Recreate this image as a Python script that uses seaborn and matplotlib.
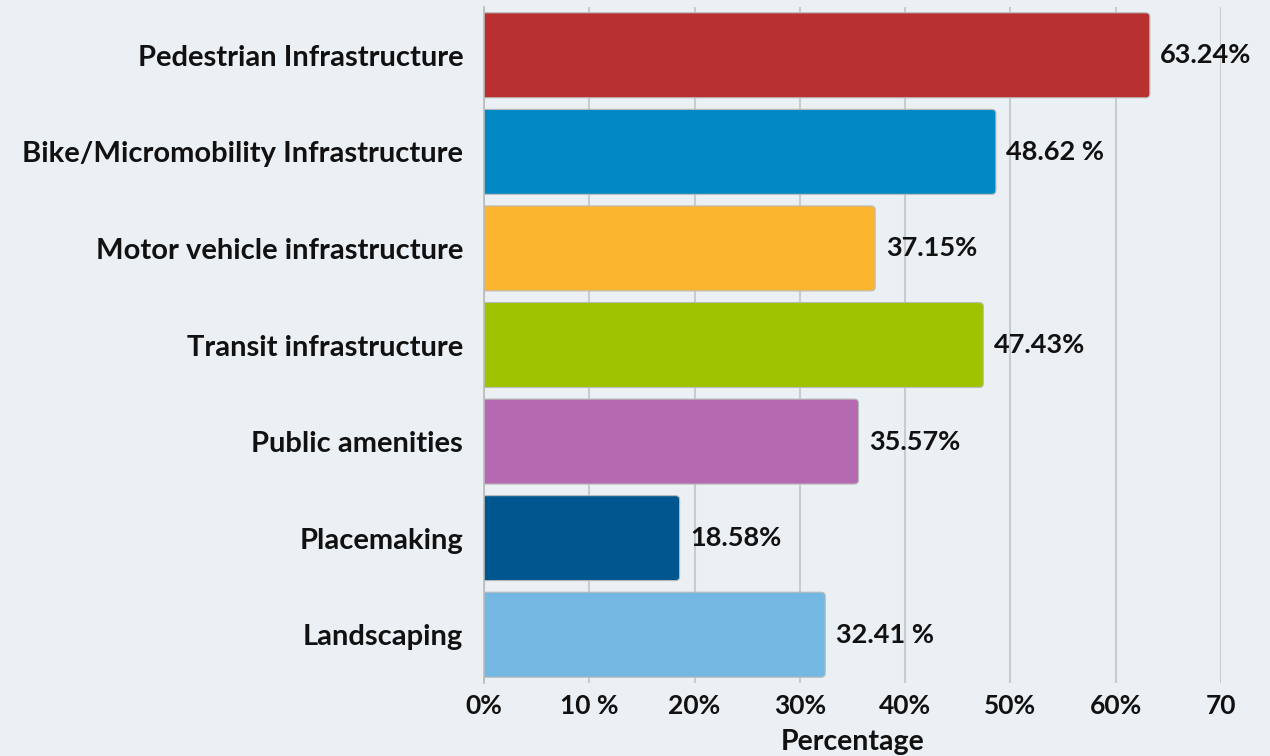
import matplotlib
matplotlib.use("Agg")
import matplotlib.pyplot as plt
import seaborn as sns
import pandas as pd
from matplotlib.patches import FancyBboxPatch

categories = ["Pedestrian Infrastructure", "Bike/Micromobility Infrastructure",
              "Motor vehicle infrastructure", "Transit infrastructure",
              "Public amenities", "Placemaking", "Landscaping"]
values = [63.24, 48.62, 37.15, 47.43, 35.57, 18.58, 32.41]
value_labels = ["63.24%", "48.62 %", "37.15%", "47.43%", "35.57%", "18.58%", "32.41 %"]
colors = ["#B83030", "#0089C4", "#FBB52E", "#A0C300", "#B569B0", "#00568E", "#73B7E3"]
xticks = [0, 10, 20, 30, 40, 50, 60, 70]
xtick_labels = ["0%", "10 %", "20%", "30%", "40%", "50%", "60%", "70"]

bg = "#EBF0F4"
sns.set_theme(style="white")
plt.rcParams['font.family'] = ['Lato', 'DejaVu Sans']

fig = plt.figure(figsize=(12.7, 7.56), dpi=100, facecolor=bg)
ax = fig.add_axes([484/1270, 1-683/756, (1221-484)/1270, (683-7)/756])
ax.set_facecolor(bg)

df = pd.DataFrame({"cat": categories, "val": values})
sns.barplot(data=df, x="val", y="cat", hue="cat", palette=colors, legend=False,
            width=0.88, ax=ax, zorder=3, saturation=1)

ax.set_xlim(0, 70)
ax.set_ylim(6.5, -0.5)
ax.set_xticks(xticks)
ax.set_xticklabels(xtick_labels, fontsize=19, fontweight="bold")
ax.tick_params(axis="y", labelsize=21, length=0, pad=15, labelcolor="#111111")
ax.tick_params(axis="x", length=0, pad=8, labelcolor="#111111")
for t in ax.get_yticklabels():
    t.set_fontweight("bold")
ax.set_ylabel("")
ax.set_xlabel("Percentage", fontsize=20.5, fontweight="bold", labelpad=8, color="#111111")

ax.grid(axis="x", color="#C9CBCE", linewidth=1.5, zorder=0)
ax.set_axisbelow(True)
for s in ["top", "right", "bottom"]:
    ax.spines[s].set_visible(False)
ax.spines["left"].set_color("#BBBBBB")
ax.spines["left"].set_linewidth(1.2)
ax.spines["left"].set_zorder(5)

# rounded right corners
patches = list(ax.patches)
for p in patches:
    x0, y0 = p.get_x(), p.get_y()
    w, h = p.get_width(), p.get_height()
    fc = p.get_facecolor()
    r = 0.4
    newp = FancyBboxPatch((x0 - 1.0, y0 + r * 0.105), w + 1.0 - r, h - 2 * r * 0.105,
                          boxstyle=f"round,pad={r},rounding_size={r}",
                          mutation_aspect=0.105, facecolor=fc, edgecolor="#BBBBBB",
                          linewidth=0.8, zorder=3)
    p.remove()
    ax.add_patch(newp)

for i, (v, lab) in enumerate(zip(values, value_labels)):
    ax.text(v + 1.0, i, lab, va="center", ha="left", fontsize=19.5, fontweight="bold",
            color="#111111", zorder=4)

fig.savefig("out.png", dpi=100, facecolor=bg)
